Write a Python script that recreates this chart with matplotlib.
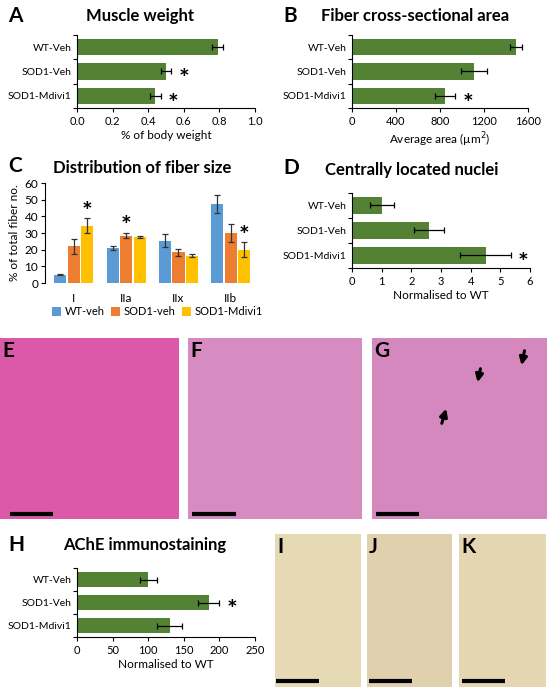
import numpy as np
import matplotlib
matplotlib.use("Agg")
import matplotlib.pyplot as plt

plt.rcParams['font.family'] = ['Lato', 'DejaVu Sans']

groups = ["WT-Veh", "SOD1-Veh", "SOD1-Mdivi1"]

# A - muscle weight
mw = [0.79, 0.50, 0.44]
mw_err = [0.03, 0.03, 0.03]
mw_sig = [False, True, True]

# B - fiber cross-sectional area
csa = [1490, 1110, 845]
csa_err = [55, 120, 95]
csa_sig = [False, False, True]

# C - fiber size distribution
fiber_types = ["I", "IIa", "IIx", "IIb"]
series_names = ["WT-veh", "SOD1-veh", "SOD1-Mdivi1"]
dist = [[5, 21, 25.5, 47.5],
        [22, 28.5, 18.5, 30],
        [34.5, 27.5, 16.5, 20]]
dist_err = [[0.4, 1.3, 4.0, 5.5],
            [4.5, 1.7, 2.0, 5.5],
            [4.5, 0.6, 1.0, 4.5]]
dist_sig = [[False, False, False, False],
            [False, True, False, False],
            [True, False, False, True]]

# D - centrally located nuclei
cln = [1.0, 2.6, 4.5]
cln_err = [0.4, 0.5, 0.85]
cln_sig = [False, False, True]

# H - AChE
ache = [100, 185, 130]
ache_err = [12, 15, 18]
ache_sig = [False, True, False]

GREEN = '#548235'
COLS = ['#5B9BD5', '#ED7D31', '#FFC000']
W, H = 550, 692

fig = plt.figure(figsize=(W / 100, H / 100), dpi=100)


def px_axes(l, t, r, b):
    return fig.add_axes([l / W, 1 - b / H, (r - l) / W, (b - t) / H])


def ftext(x, y, s, **kw):
    fig.text(x / W, 1 - y / H, s, **kw)


def hbar(ax, vals, errs, sig, xmax, step, xlabel):
    y = np.arange(len(groups))
    ax.barh(y, vals, height=0.66, color=GREEN, xerr=errs,
            error_kw=dict(ecolor='black', elinewidth=0.9, capsize=2.5, capthick=0.9))
    for i in range(len(vals)):
        if sig[i]:
            ax.annotate('*', (vals[i] + errs[i], y[i]), xytext=(5, -6),
                        textcoords='offset points', fontsize=18, fontweight='bold',
                        va='center', ha='left')
    ax.set_ylim(2.5, -0.5)
    ax.set_xlim(0, xmax)
    ax.set_yticks(y)
    ax.set_yticklabels(groups, fontsize=7.5)
    ax.set_yticks([-0.5, 0.5, 1.5, 2.5], minor=True)
    ax.tick_params(axis='y', which='major', length=0, pad=4)
    ax.tick_params(axis='y', which='minor', length=3, width=0.8)
    ax.set_xticks(np.arange(0, xmax + step / 2, step))
    ax.tick_params(axis='x', length=3, width=0.8, labelsize=8, pad=3)
    ax.set_xlabel(xlabel, fontsize=8.5, labelpad=2)
    for s in ['top', 'right']:
        ax.spines[s].set_visible(False)
    for s in ['left', 'bottom']:
        ax.spines[s].set_linewidth(0.8)


# A
axA = px_axes(77, 35, 255, 108)
hbar(axA, mw, mw_err, mw_sig, 1.0, 0.2, "% of body weight")
axA.xaxis.set_major_formatter(matplotlib.ticker.FormatStrFormatter('%.1f'))
ftext(8, 16, "A", fontsize=15, fontweight='bold', va='center')
ftext(140, 16, "Muscle weight", fontsize=12, fontweight='bold', ha='center', va='center')

# B
axB = px_axes(352, 35, 528, 108)
hbar(axB, csa, csa_err, csa_sig, 1600, 400, "Average area (\u00b5m$^2$)")
ftext(283, 16, "B", fontsize=15, fontweight='bold', va='center')
ftext(415, 16, "Fiber cross-sectional area", fontsize=12, fontweight='bold', ha='center', va='center')

# C
axC = px_axes(45, 183, 257, 283)
x = np.arange(len(fiber_types))
bw = 0.23
for k in range(3):
    xs = x + (k - 1) * 0.26
    axC.bar(xs, dist[k], width=bw, color=COLS[k], label=series_names[k],
            yerr=dist_err[k], error_kw=dict(ecolor='#333333', elinewidth=0.9,
                                            capsize=2, capthick=0.9))
    for j in range(len(fiber_types)):
        if dist_sig[k][j]:
            axC.annotate('*', (xs[j], dist[k][j] + dist_err[k][j]), xytext=(0, -4),
                         textcoords='offset points', fontsize=18, fontweight='bold',
                         ha='center', va='bottom')
axC.set_xlim(-0.55, 3.5)
axC.set_ylim(0, 60)
axC.set_yticks(np.arange(0, 61, 10))
axC.set_xticks(x)
axC.set_xticklabels(fiber_types, fontsize=8.5)
axC.tick_params(axis='x', length=0, pad=7)
axC.tick_params(axis='y', length=3, width=0.8, labelsize=8.5, pad=2)
axC.set_ylabel("% of total fiber no.", fontsize=8.5, labelpad=3)
for s in ['top', 'right', 'bottom']:
    axC.spines[s].set_visible(False)
axC.spines['left'].set_linewidth(0.8)
axC.legend(loc='upper center', bbox_to_anchor=(0.53, -0.19), ncol=3, frameon=False,
           fontsize=8, handlelength=0.8, handleheight=0.8, handletextpad=0.3,
           columnspacing=0.6, borderaxespad=0)
ftext(8, 166, "C", fontsize=15, fontweight='bold', va='center')
ftext(142, 168, "Distribution of fiber size", fontsize=12, fontweight='bold', ha='center', va='center')

# D
axD = px_axes(352, 193, 530, 268)
hbar(axD, cln, cln_err, cln_sig, 6, 1, "Normalised to WT")
ftext(283, 168, "D", fontsize=15, fontweight='bold', va='center')
ftext(412, 170, "Centrally located nuclei", fontsize=12, fontweight='bold', ha='center', va='center')

# H
axH = px_axes(77, 568, 255, 637)
hbar(axH, ache, ache_err, ache_sig, 250, 50, "Normalised to WT")
ftext(8, 545, "H", fontsize=15, fontweight='bold', va='center')
ftext(145, 545, "AChE immunostaining", fontsize=12, fontweight='bold', ha='center', va='center')

# micrograph panels (flat tone placeholders with scale bars)
img_panels = [
    ("E", (0, 338, 179, 519), '#dc58a8', (10, 53, 514)),
    ("F", (188, 338, 362, 519), '#d68cc0', (192, 236, 514)),
    ("G", (372, 338, 547, 519), '#d488be', (376, 419, 514)),
    ("I", (275, 534, 361, 687), '#e6dab4', (276, 319, 681)),
    ("J", (367, 534, 452, 687), '#e0d0ad', (369, 412, 681)),
    ("K", (459, 534, 546, 687), '#e4d6b1', (462, 505, 681)),
]
img_axes = {}
for lab, (l, t, r, b), col, (sx0, sx1, sy) in img_panels:
    ax = px_axes(l, t, r, b)
    ax.set_xlim(l, r)
    ax.set_ylim(b, t)
    ax.set_facecolor(col)
    ax.set_xticks([])
    ax.set_yticks([])
    for s in ax.spines.values():
        s.set_visible(False)
    ax.plot([sx0, sx1], [sy, sy], color='black', lw=3, solid_capstyle='butt')
    ax.text(l + 2, t + 3, lab, fontsize=15, fontweight='bold', va='top', ha='left')
    img_axes[lab] = ax

# arrows in G
arrows = [((525, 348), (521, 368)), ((481, 366), (477, 385)), ((441, 426), (447, 406))]
for (x0, y0), (x1, y1) in arrows:
    img_axes["G"].annotate('', xy=(x1, y1), xytext=(x0, y0),
                           arrowprops=dict(arrowstyle='-|>', color='black', lw=2.2,
                                           mutation_scale=11))

fig.savefig("out.png", dpi=100)
